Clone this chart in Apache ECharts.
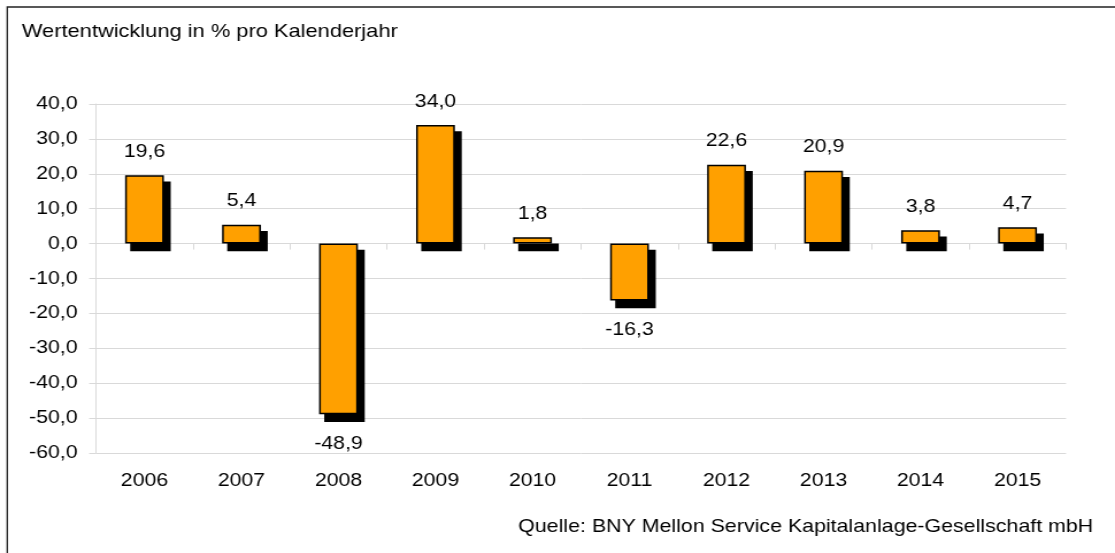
<!DOCTYPE html>
<html>
<head>
<meta charset="utf-8">
<script src="https://cdn.jsdelivr.net/npm/echarts@6/dist/echarts.min.js"></script>
<style>
  html, body { margin: 0; padding: 0; background: #fff; overflow: hidden; }
  /* the reference is slightly stretched sideways, so the chart is too */
  #main { width: 970px; height: 553px; transform: scaleX(1.1495); transform-origin: 0 0; }
</style>
</head>
<body>
<div id="main"></div>
<script>
var years = ['2006', '2007', '2008', '2009', '2010', '2011', '2012', '2013', '2014', '2015'];
var values = [19.6, 5.4, -48.9, 34.0, 1.8, -16.3, 22.6, 20.9, 3.8, 4.7];
var yMin = -60;
var yMax = 40;
var yStep = 10;

var titleText = 'Wertentwicklung in % pro Kalenderjahr';
var sourceText = 'Quelle: BNY Mellon Service Kapitalanlage-Gesellschaft mbH';

function fmt(v) {
	return Number(v).toFixed(1).replace('.', ',');
}

var font = 'Liberation Sans, Arial, sans-serif';
var fs = 18.5;
var gridColor = '#d9d9d9';
var barRatio = 0.4;
var shadowX = 5.2, shadowY = 7;

var chart = echarts.init(document.getElementById('main'));

// black drop shadow behind each bar
function renderShadow(params, api) {
	var base = api.coord([api.value(0), 0]);
	var top = api.coord([api.value(0), api.value(1)]);
	var w = api.size([1, 0])[0] * barRatio;
	var y1 = Math.min(base[1], top[1]);
	var y2 = Math.max(base[1], top[1]);
	return {
		type: 'rect',
		shape: { x: base[0] - w / 2 + shadowX, y: y1 + shadowY, width: w, height: y2 - y1 },
		style: { fill: '#000', stroke: '#000', lineWidth: 1.5 }
	};
}

var option = {
	animation: false,
	textStyle: { fontFamily: font },
	title: [{
		text: titleText,
		left: 19,
		top: 22,
		padding: 0,
		textStyle: { fontSize: 19, fontWeight: 'normal', color: '#000', fontFamily: font }
	}, {
		text: sourceText,
		right: 19,
		top: 517,
		padding: 0,
		textStyle: { fontSize: 18.6, fontWeight: 'normal', color: '#000', fontFamily: font }
	}],
	graphic: [{
		type: 'rect',
		shape: { x: 6.3, y: 7, width: 2000, height: 1000 },
		style: { fill: 'none', stroke: '#222', lineWidth: 1.3 },
		silent: true,
		z: -10
	}],
	grid: {
		left: 83.5,
		right: 42.6,
		top: 104,
		bottom: 100
	},
	xAxis: [{
		type: 'category',
		data: years,
		position: 'bottom',
		axisLine: { show: false, onZero: false },
		axisTick: { show: false },
		axisLabel: { fontSize: fs, color: '#000', margin: 18, fontFamily: font },
		splitLine: { show: false }
	}, {
		type: 'category',
		data: years,
		position: 'top',
		axisLine: { show: true, onZero: true, lineStyle: { color: gridColor, width: 1 } },
		axisTick: { show: true, inside: true, length: 6, lineStyle: { color: gridColor } },
		axisLabel: { show: false },
		splitLine: { show: false }
	}],
	yAxis: {
		type: 'value',
		min: yMin,
		max: yMax,
		interval: yStep,
		axisLine: { show: true, lineStyle: { color: gridColor } },
		axisTick: { show: true, length: 6, lineStyle: { color: gridColor } },
		axisLabel: { fontSize: fs, color: '#000', margin: 16, formatter: fmt, fontFamily: font },
		splitLine: { show: true, lineStyle: { color: gridColor, width: 1 } }
	},
	series: [{
		type: 'custom',
		xAxisIndex: 0,
		renderItem: renderShadow,
		data: values.map(function(v, i) { return [i, v]; }),
		encode: { x: 0, y: 1 },
		silent: true,
		z: 1
	}, {
		type: 'bar',
		xAxisIndex: 0,
		barWidth: (barRatio * 100) + '%',
		z: 2,
		data: values.map(function(v) {
			return {
				value: v,
				label: {
					position: v >= 0 ? 'top' : 'bottom',
					distance: v >= 0 ? 14 : 20
				}
			};
		}),
		itemStyle: {
			color: '#FFA000',
			borderColor: '#000',
			borderWidth: 1.5
		},
		label: {
			show: true,
			fontSize: fs,
			color: '#000',
			fontFamily: font,
			formatter: function(p) {
				return fmt(p.value);
			}
		}
	}]
};

chart.setOption(option);
</script>
</body>
</html>
